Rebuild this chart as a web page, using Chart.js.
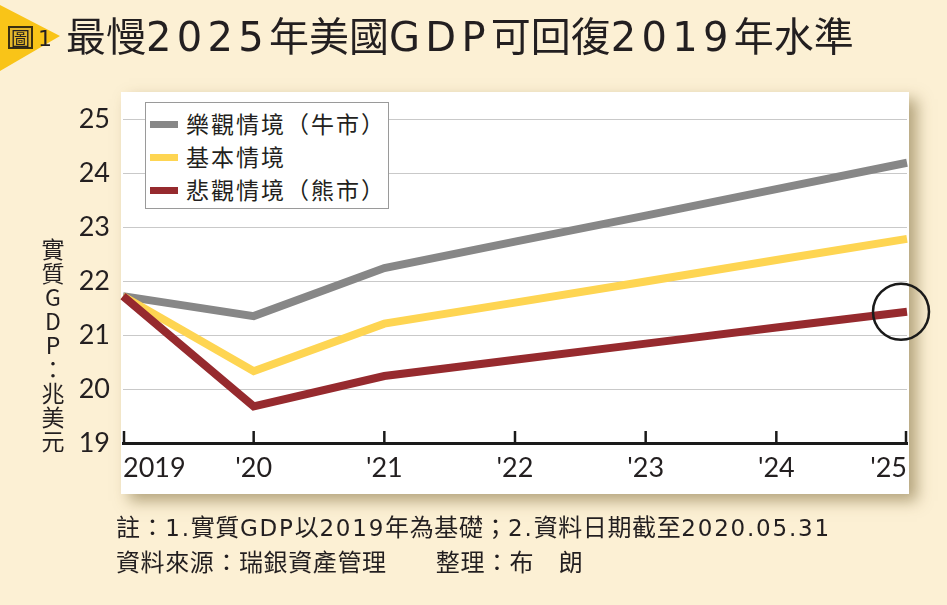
<!DOCTYPE html>
<html>
<head>
<meta charset="utf-8">
<script src="https://cdn.jsdelivr.net/npm/chart.js@4/dist/chart.umd.min.js"></script>
<style>
body { margin: 0; background: #fcf0d4; }
#wrap { position: relative; width: 947px; height: 605px; overflow: hidden; color: #231f20;
        font-family: "Noto Sans CJK TC", "Noto Sans", sans-serif; }
#chart { position: absolute; left: 0; top: 0; }
.tri { position: absolute; left: 0; top: 5px; width: 60px; height: 66px; background: #f9c418;
       clip-path: polygon(0 0, 100% 47%, 0 100%); }
.badge { position: absolute; left: 8px; top: 26px; font-size: 19px; line-height: 1; }
.badge span { display: inline-block; border: 2px solid #3a2e10; background: #e4b62a; padding: 0 1px; margin-right: 5px; }
.badge b { font-weight: normal; font-family: "DejaVu Sans", sans-serif; font-size: 22px; }
.title { position: absolute; left: 66px; top: 12px; font-size: 40px; line-height: 1.1; white-space: nowrap; }
.lat { font-family: "DejaVu Sans", sans-serif; font-weight: 400; }
.title .lat { letter-spacing: 5.3px; }
.ylab { position: absolute; left: 41px; top: 238px; font-size: 23px; line-height: 1; writing-mode: vertical-rl;
        text-orientation: upright; letter-spacing: 1px; }
.legend { position: absolute; left: 145px; top: 102px; width: 242px; height: 105px; background: #fff;
          border: 1px solid #9a9a9a; }
.legend div { position: absolute; left: 4px; font-size: 23px; line-height: 1; white-space: nowrap; letter-spacing: 2px; }
.legend i { display: inline-block; width: 28px; height: 7px; vertical-align: middle; margin-right: 8px; position: relative; top: -2px; }
.note { position: absolute; left: 116px; font-size: 24px; line-height: 1; white-space: nowrap; letter-spacing: 0.6px; }
.note .lat { font-size: 23px; letter-spacing: 1.8px; }
</style>
</head>
<body>
<div id="wrap">
  <canvas id="chart" width="947" height="605"></canvas>
  <div class="tri"></div>
  <div class="badge"><span>圖</span><b>1</b></div>
  <div class="title" data-t="最慢2025年美國GDP可回復2019年水準"></div>
  <div class="ylab">實質GDP：兆美元</div>
  <div class="legend" id="legend"></div>
  <div class="note" style="top:514px" data-t="註：1.實質GDP以2019年為基礎；2.資料日期截至2020.05.31"></div>
  <div class="note" style="top:549px" data-t="資料來源：瑞銀資產管理　　整理：布　朗"></div>
</div>
<script>
// 年份與三種情境(兆美元)
const years = ['2019', "'20", "'21", "'22", "'23", "'24", "'25"];
const bullGdp = [21.72, 21.35, 22.24, 22.73, 23.21, 23.70, 24.19];
const baseGdp = [21.72, 20.33, 21.21, 21.60, 21.99, 22.39, 22.78];
const bearGdp = [21.72, 19.68, 20.24, 20.54, 20.84, 21.14, 21.43];
const yMin = 19, yMax = 25;
const seriesNames = ['樂觀情境（牛市）', '基本情境', '悲觀情境（熊市）'];
const seriesColors = ['#878787', '#fed552', '#962a2e'];

// 英數字用較寬的字型
function wrapLatin(s) {
    return s.replace(/[A-Za-z0-9.]+/g, function(m) { return '<span class="lat">' + m + '</span>'; });
}
document.querySelectorAll('[data-t]').forEach(function(el) {
    el.innerHTML = wrapLatin(el.getAttribute('data-t'));
});

// 米色底 + 白色圖板(含陰影)
const panelBg = {
    id: 'panelBg',
    beforeDraw: function(chart) {
        var ctx = chart.ctx;
        ctx.save();
        ctx.fillStyle = '#fcf0d4';
        ctx.fillRect(0, 0, chart.width, chart.height);
        ctx.shadowColor = 'rgba(110,90,40,0.5)';
        ctx.shadowBlur = 14;
        ctx.shadowOffsetX = 8;
        ctx.shadowOffsetY = 7;
        ctx.fillStyle = '#fff';
        ctx.fillRect(121, 92, 788, 402);
        ctx.restore();
    }
};

// x軸朝上的刻度線 + 2025圈註
const axisMarks = {
    id: 'axisMarks',
    afterDatasetsDraw: function(chart) {
        var ctx = chart.ctx, xs = chart.scales.x, ys = chart.scales.y;
        var bottom = chart.chartArea.bottom;
        ctx.save();
        ctx.strokeStyle = '#1a1a1a';
        ctx.lineWidth = 2.5;
        years.forEach(function(y, i) {
            var x = xs.getPixelForValue(i);
            if (i === 0) x += 1;
            if (i === years.length - 1) x -= 1;
            ctx.beginPath();
            ctx.moveTo(x, bottom);
            ctx.lineTo(x, bottom - 12);
            ctx.stroke();
        });
        var last = years.length - 1;
        ctx.beginPath();
        ctx.arc(xs.getPixelForValue(last) - 6, ys.getPixelForValue(bearGdp[last]), 28, 0, Math.PI * 2);
        ctx.stroke();
        ctx.restore();
    }
};

var legend = document.getElementById('legend');
legend.innerHTML = seriesNames.map(function(n, i) {
    return '<div style="top:' + (9 + i * 33) + 'px"><i style="background:' + seriesColors[i] + '"></i>' + n + '</div>';
}).join('');

var tickFont = { family: 'Lato, "Noto Sans", sans-serif', size: 27 };

new Chart(document.getElementById('chart'), {
    type: 'line',
    data: {
        labels: years,
        datasets: [
            { label: seriesNames[2], data: bearGdp, borderColor: seriesColors[2], order: 0 },
            { label: seriesNames[1], data: baseGdp, borderColor: seriesColors[1], order: 1 },
            { label: seriesNames[0], data: bullGdp, borderColor: seriesColors[0], order: 2 }
        ]
    },
    options: {
        responsive: false,
        animation: false,
        clip: false,
        elements: {
            line: { borderWidth: 8, tension: 0, borderJoinStyle: 'miter', borderCapStyle: 'butt' },
            point: { radius: 0 }
        },
        layout: { padding: { left: 0, right: 40, top: 119, bottom: 0 } },
        plugins: { legend: { display: false }, tooltip: { enabled: false } },
        scales: {
            x: {
                offset: false,
                grid: { display: false, drawTicks: false },
                border: { display: true, color: '#1a1a1a', width: 3 },
                ticks: { color: '#231f20', font: tickFont, padding: 9, align: 'inner', maxRotation: 0 },
                afterFit: function(s) { s.height = 162; }
            },
            y: {
                min: yMin, max: yMax,
                grid: { color: function(c) { return c.tick.value === yMin ? 'rgba(0,0,0,0)' : '#c9c9c9'; }, lineWidth: 1, drawTicks: false },
                border: { display: false },
                ticks: { stepSize: 1, color: '#231f20', font: tickFont, padding: 13 },
                afterFit: function(s) { s.width = 123; }
            }
        }
    },
    plugins: [panelBg, axisMarks]
});
</script>
</body>
</html>
